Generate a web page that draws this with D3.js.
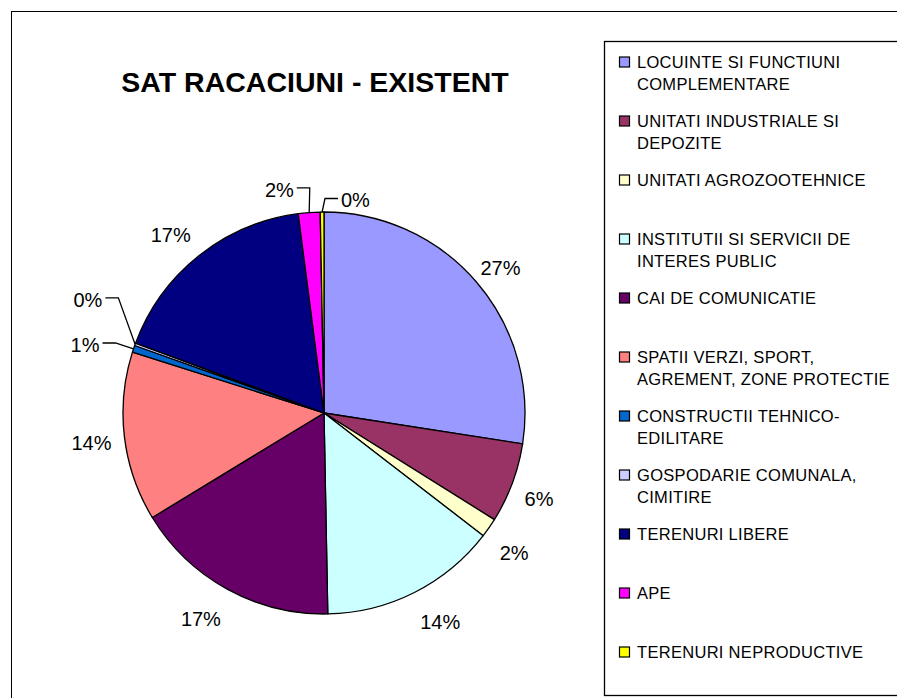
<!DOCTYPE html>
<html><head><meta charset="utf-8">
<script src="https://cdn.jsdelivr.net/npm/d3@7"></script>
<style>html,body{margin:0;padding:0;background:#fff;overflow:hidden}svg{display:block}</style>
</head><body>
<svg id="chart" width="897" height="698"></svg>
<script>
const title = "SAT RACACIUNI - EXISTENT";
const categories = [
  "LOCUINTE SI FUNCTIUNI\nCOMPLEMENTARE",
  "UNITATI INDUSTRIALE SI\nDEPOZITE",
  "UNITATI AGROZOOTEHNICE",
  "INSTITUTII SI SERVICII DE\nINTERES PUBLIC",
  "CAI DE COMUNICATIE",
  "SPATII VERZI, SPORT,\nAGREMENT, ZONE PROTECTIE",
  "CONSTRUCTII TEHNICO-\nEDILITARE",
  "GOSPODARIE COMUNALA,\nCIMITIRE",
  "TERENURI LIBERE",
  "APE",
  "TERENURI NEPRODUCTIVE"
];
const values = [27.45, 6.45, 1.55, 14.25, 16.6, 13.6, 0.55, 0.2, 17.3, 1.75, 0.3];
const colors = ["#9999FF","#993366","#FFFFCC","#CCFFFF","#660066","#FF8080","#0066CC","#CCCCFF","#000080","#FF00FF","#FFFF00"];

const svg = d3.select("#chart");
const font = "'Liberation Sans', Arial, sans-serif";

// outer chart border
svg.append("rect").attr("x",11.5).attr("y",11.5).attr("width",900).attr("height",700)
  .attr("fill","none").attr("stroke","#000").attr("stroke-width",1);

// title
svg.append("text").attr("x",315).attr("y",92).attr("text-anchor","middle")
  .attr("font-family",font).attr("font-weight","bold").attr("font-size",28.5)
  .text(title);

// pie
const cx = 324, cy = 413, r = 201;
const total = d3.sum(values);
const pie = d3.pie().sort(null).value(d => d)(values);
const arc = d3.arc().innerRadius(0).outerRadius(r);
const g = svg.append("g").attr("transform",`translate(${cx},${cy})`);
g.selectAll("path").data(pie).join("path")
  .attr("d",arc).attr("fill",(d,i)=>colors[i])
  .attr("stroke","#000").attr("stroke-width",1.3).attr("stroke-linejoin","round");

// labels
const labelFont = 20;
const labelR = r + 13;
const clamp = v => Math.max(-1, Math.min(1, v));
// polar placements (deg, distance) for labels moved off small slices
const moved = {6:[286.0,248.6], 7:[295.7,262], 9:[348.7,228], 10:[8.4,215.3]};
const pct = v => Math.round(v/total*100) + "%";
pie.forEach((d,i) => {
  const txt = pct(d.value);
  const t = g.append("text").attr("dy","0.36em").attr("text-anchor","middle")
    .attr("font-family",font).attr("font-size",labelFont).text(txt);
  const w = t.node().getComputedTextLength(), h = 22;
  const mid = (d.startAngle + d.endAngle)/2;
  const s = Math.sin(mid), c = Math.cos(mid);
  let x, y;
  if (moved[i]) {
    const a = moved[i][0]*Math.PI/180, dist = moved[i][1];
    x = dist*Math.sin(a); y = -dist*Math.cos(a);
    const px = r*s, py = -r*c;
    const side = x < px ? 1 : -1;
    const ex = x + side*(w/2 + 3), ey = y - 1.5;
    const hx = ex + side*13;
    g.append("polyline").attr("points",`${ex},${ey} ${hx},${ey} ${px},${py}`)
      .attr("fill","none").attr("stroke","#000").attr("stroke-width",1.3);
  } else {
    x = labelR*s + clamp(3*s)*w/2;
    y = -labelR*c - clamp(3*c)*h/2 + (c < -0.5 ? 7 : 0);
    if (c > 0.5 && s > 0.5) { x -= 6; y += 5; }
  }
  t.attr("x",x).attr("y",y);
});

// legend
svg.append("rect").attr("x",604.5).attr("y",41.5).attr("width",400).attr("height",654)
  .attr("fill","none").attr("stroke","#000").attr("stroke-width",1.3);
const ly = d3.scalePoint().domain(categories).range([62, 652]);
const lg = svg.append("g");
categories.forEach((c,i) => {
  const y0 = ly(c);
  lg.append("rect").attr("x",619.5).attr("y",y0-5).attr("width",10).attr("height",10)
    .attr("fill",colors[i]).attr("stroke","#000").attr("stroke-width",1.2);
  const t = lg.append("text").attr("font-family",font).attr("font-size",16.5).attr("letter-spacing",0.3);
  c.split("\n").forEach((line,k) => {
    t.append("tspan").attr("x",637).attr("y",y0 + k*22).attr("dy","0.36em").text(line);
  });
});
</script>
</body></html>
